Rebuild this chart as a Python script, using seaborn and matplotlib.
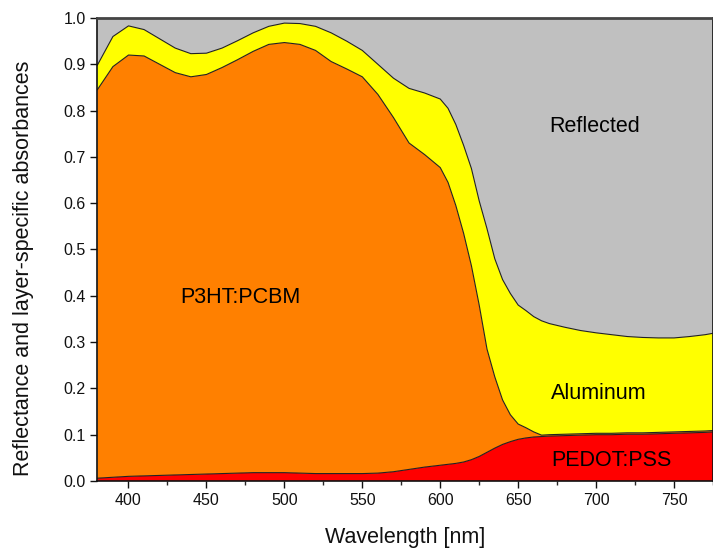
import matplotlib
matplotlib.use("Agg")
import matplotlib.pyplot as plt
import seaborn as sns
import numpy as np
from matplotlib.ticker import MultipleLocator

# wavelength grid [nm]
wavelength = [380, 390, 400, 410, 420, 430, 440, 450, 460, 470, 480, 490, 500,
              510, 520, 530, 540, 550, 560, 570, 580, 590, 600, 605, 610, 615,
              620, 625, 630, 635, 640, 645, 650, 655, 660, 665, 670, 680, 690,
              700, 710, 720, 730, 740, 750, 760, 770, 775]

# layer-specific absorbances
pedot_pss = [0.006, 0.008, 0.010, 0.011, 0.012, 0.013, 0.014, 0.015, 0.016, 0.017,
             0.018, 0.018, 0.018, 0.017, 0.016, 0.016, 0.016, 0.016, 0.017, 0.020,
             0.025, 0.030, 0.034, 0.036, 0.038, 0.041, 0.046, 0.053, 0.062, 0.071,
             0.079, 0.085, 0.090, 0.093, 0.095, 0.096, 0.097, 0.098, 0.099, 0.100,
             0.100, 0.101, 0.101, 0.102, 0.103, 0.104, 0.105, 0.106]
p3ht_pcbm = [0.839, 0.887, 0.910, 0.907, 0.888, 0.869, 0.859, 0.863, 0.877, 0.893,
             0.910, 0.925, 0.929, 0.926, 0.914, 0.890, 0.874, 0.857, 0.818, 0.765,
             0.705, 0.675, 0.643, 0.609, 0.557, 0.494, 0.419, 0.327, 0.223, 0.154,
             0.096, 0.058, 0.033, 0.022, 0.011, 0.003, 0.003, 0.003, 0.003, 0.003,
             0.003, 0.003, 0.003, 0.003, 0.003, 0.003, 0.003, 0.003]
aluminum = [0.053, 0.065, 0.063, 0.057, 0.055, 0.053, 0.050, 0.046, 0.042, 0.041,
            0.040, 0.039, 0.042, 0.045, 0.052, 0.062, 0.060, 0.057, 0.065, 0.085,
            0.118, 0.133, 0.148, 0.160, 0.175, 0.190, 0.210, 0.225, 0.260, 0.255,
            0.260, 0.262, 0.257, 0.253, 0.249, 0.247, 0.240, 0.231, 0.223, 0.217,
            0.213, 0.208, 0.206, 0.204, 0.203, 0.205, 0.208, 0.210]
# reflected part fills the remainder up to 1
reflected = list(1 - np.array(pedot_pss) - np.array(p3ht_pcbm) - np.array(aluminum))

layer_colors = ["#ff0000", "#ff8000", "#ffff00", "#c0c0c0"]

sns.set_style("ticks")
plt.rcParams["font.family"] = ["Liberation Sans", "DejaVu Sans"]

fig = plt.figure(figsize=(7.13, 5.54), dpi=100)
ax = fig.add_axes([0.1365, 0.1318, 0.8635, 0.8357])

ax.stackplot(wavelength, pedot_pss, p3ht_pcbm, aluminum, reflected,
             colors=layer_colors, edgecolor="none", linewidth=0)

# black outlines on the layer boundaries
bounds = np.cumsum([pedot_pss, p3ht_pcbm, aluminum], axis=0)
for b in bounds:
    sns.lineplot(x=wavelength, y=b, ax=ax, color="#222222", linewidth=0.8)

ax.text(699, 0.765, "Reflected", fontsize=15.5, ha="center", va="center", color="black")
ax.text(472, 0.397, "P3HT:PCBM", fontsize=15.5, ha="center", va="center", color="black")
ax.text(702, 0.188, "Aluminum", fontsize=15.5, ha="center", va="center", color="black")
ax.text(710, 0.045, "PEDOT:PSS", fontsize=15.5, ha="center", va="center", color="black")

ax.set_xlim(380, 775)
ax.set_ylim(0, 1.0)
ax.xaxis.set_major_locator(MultipleLocator(50))
ax.xaxis.set_minor_locator(MultipleLocator(25))
ax.yaxis.set_major_locator(MultipleLocator(0.1))
ax.yaxis.set_major_formatter(matplotlib.ticker.FormatStrFormatter("%.1f"))
ax.tick_params(axis="both", which="major", direction="out", length=5, width=1,
               labelsize=11.5, colors="#111111")
ax.tick_params(axis="x", which="minor", direction="out", length=3, width=1)

for side in ["left", "bottom", "right"]:
    ax.spines[side].set_linewidth(1.2)
    ax.spines[side].set_color("#111111")
ax.spines["top"].set_linewidth(2)
ax.spines["top"].set_color("#444444")

ax.set_xlabel("Wavelength [nm]", fontsize=15.5, labelpad=14, color="#111111")
ax.set_ylabel("Reflectance and layer-specific absorbances", fontsize=15.5,
              color="#111111")
ax.yaxis.set_label_coords(-0.103, 0.46)

fig.savefig("out.png", dpi=100)
